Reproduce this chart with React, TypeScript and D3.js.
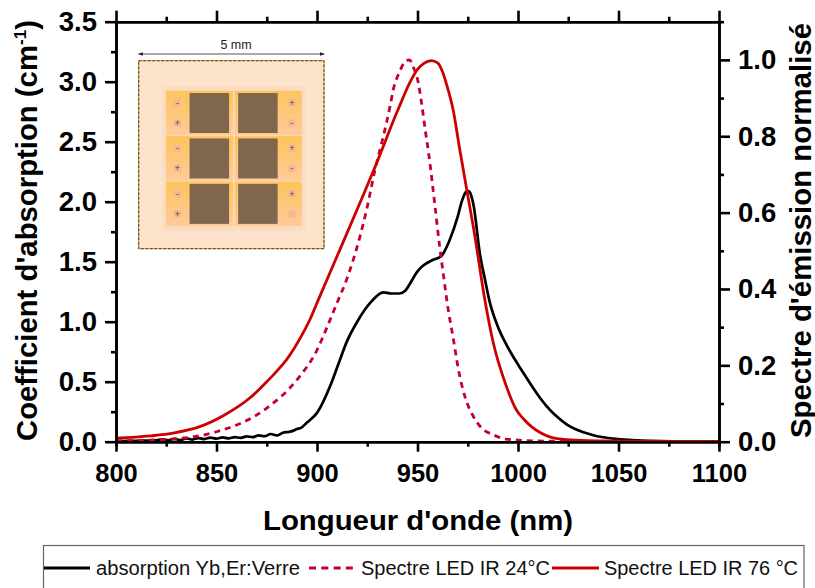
import React, { useEffect, useRef } from 'react';
import * as d3 from 'd3';

const absorptionNm = [800, 810, 820, 823, 826, 829, 832, 835, 838, 841, 844, 847, 850, 853, 856, 859, 862, 865, 868, 871, 874, 877, 880, 883, 886, 888, 890, 892, 895, 900, 906.7, 910.7, 915, 920, 927, 933, 937, 941, 944, 946, 950, 953, 957, 962, 966, 970, 972, 974, 975, 976, 978, 981, 983.6, 985.7, 990, 994.3, 1002.7, 1011, 1014, 1024, 1037, 1051, 1070, 1100];
const absorptionValues = [0.006, 0.008, 0.012, 0.02, 0.012, 0.024, 0.014, 0.028, 0.018, 0.03, 0.022, 0.034, 0.026, 0.036, 0.028, 0.038, 0.032, 0.044, 0.038, 0.052, 0.046, 0.064, 0.052, 0.074, 0.082, 0.09, 0.105, 0.115, 0.16, 0.24, 0.47, 0.65, 0.84, 1.0, 1.167, 1.245, 1.235, 1.235, 1.26, 1.31, 1.42, 1.47, 1.51, 1.55, 1.68, 1.875, 2.0, 2.08, 2.09, 2.08, 1.96, 1.57, 1.35, 1.18, 0.958, 0.806, 0.572, 0.364, 0.3, 0.147, 0.056, 0.02, 0.005, 0];

const led24Nm = [800, 825, 850, 875, 890, 900, 905, 910, 914.7, 921.4, 924.7, 928.9, 933, 936.4, 938, 941, 943.5, 946, 948, 950.4, 952, 953.8, 955.5, 958.7, 961, 963, 964.9, 967.9, 970.4, 973.6, 977.8, 981.9, 987.7, 994, 1010, 1030, 1100];
const led24Values = [0.002, 0.006, 0.026, 0.088, 0.162, 0.24, 0.3, 0.364, 0.424, 0.538, 0.608, 0.713, 0.8, 0.88, 0.923, 0.968, 0.993, 1.0, 0.98, 0.94, 0.888, 0.818, 0.757, 0.617, 0.512, 0.433, 0.359, 0.267, 0.188, 0.118, 0.066, 0.036, 0.018, 0.007, 0.002, 0.001, 0];

const led76Nm = [800, 817, 829, 842, 854, 866.7, 875, 886.6, 891.5, 896.5, 900.7, 905, 911.4, 921.4, 929.7, 939.7, 947, 950, 953, 957, 960, 962.5, 964.5, 967.7, 971, 974.5, 978, 983.5, 987.7, 993.6, 999, 1003, 1007, 1011, 1019.5, 1040, 1100];
const led76Values = [0.009, 0.015, 0.023, 0.04, 0.07, 0.115, 0.157, 0.2275, 0.27, 0.32, 0.372, 0.425, 0.503, 0.626, 0.73, 0.862, 0.949, 0.975, 0.99, 0.998, 0.992, 0.968, 0.935, 0.87, 0.766, 0.66, 0.556, 0.372, 0.259, 0.154, 0.085, 0.058, 0.038, 0.024, 0.008, 0.002, 0];

const xMajorTicks = [800, 850, 900, 950, 1000, 1050, 1100];
const xMinorTicks = [825, 875, 925, 975, 1025, 1075];
const leftMajorTicks = [0, 0.5, 1, 1.5, 2, 2.5, 3, 3.5];
const leftMinorTicks = [0.25, 0.75, 1.25, 1.75, 2.25, 2.75, 3.25];
const rightMajorTicks = [0, 0.2, 0.4, 0.6, 0.8, 1];
const rightMinorTicks = [0.1, 0.3, 0.5, 0.7, 0.9, 1.1];

const legendLabels = ['absorption Yb,Er:Verre', 'Spectre LED IR 24°C', 'Spectre LED IR 76 °C'];

// inset device schematic, one row per pixel triplet
const insetRows = ['haut', 'milieu', 'bas'];
const insetColumns = ['gauche', 'droite'];
const leftPadSigns = [['-', '+'], ['-', '+'], ['-', '+']];
const rightPadSigns = [['+', '-'], ['+', '-'], ['+', '']];

const FONT = '"Liberation Sans", Arial, sans-serif';
const BLACK = '#000000';
const RED = '#cc0000';
const CRIMSON = '#c4002f';

const App: React.FC = () => {
  const svgRef = useRef<SVGSVGElement>(null);

  useEffect(() => {
    if (!svgRef.current) return;

    const left = 116;
    const right = 719;
    const top = 21.7;
    const bottom = 441.7;

    const svg = d3.select(svgRef.current);
    svg.selectAll('*').remove();

    const x = d3.scaleLinear().domain([800, 1100]).range([left, right]);
    const yLeft = d3.scaleLinear().domain([0, 3.5]).range([bottom, top]);
    const yRight = d3.scaleLinear().domain([0, 1.1]).range([bottom, top]);

    // Inset first, the curves run over it
    const inset = svg.append('g');
    const ix = d3.scaleLinear().domain([0, 100]).range([138.7, 324]);
    const iy = d3.scaleLinear().domain([0, 100]).range([60.7, 248.7]);

    inset.append('rect')
      .attr('x', ix(0)).attr('y', iy(0))
      .attr('width', ix(100) - ix(0)).attr('height', iy(100) - iy(0))
      .attr('fill', '#fde3cb')
      .attr('stroke', '#d8b040')
      .attr('stroke-width', 1);
    inset.append('rect')
      .attr('x', ix(0)).attr('y', iy(0))
      .attr('width', ix(100) - ix(0)).attr('height', iy(100) - iy(0))
      .attr('fill', 'none')
      .attr('stroke', '#4a3c18')
      .attr('stroke-width', 1)
      .attr('stroke-dasharray', '3 1.5');

    inset.append('rect')
      .attr('x', ix(12.8)).attr('y', iy(13.8))
      .attr('width', ix(89.8) - ix(12.8)).attr('height', iy(90.5) - iy(13.8))
      .attr('fill', '#fbdcc0');

    const defs = svg.append('defs');
    const cellGradient = defs.append('linearGradient')
      .attr('id', 'cell-gradient')
      .attr('x1', '0%').attr('y1', '0%').attr('x2', '0%').attr('y2', '100%');
    cellGradient.append('stop').attr('offset', '0%').attr('stop-color', '#fdc45a');
    cellGradient.append('stop').attr('offset', '100%').attr('stop-color', '#fecb9a');

    const colBand = d3.scaleBand().domain(insetColumns).range([ix(14.7), ix(88)]).paddingInner(0.023);
    const rowBand = d3.scaleBand().domain(insetRows).range([iy(16), iy(88)]).paddingInner(0.02);
    const squareSize = 39.5;

    insetColumns.forEach((col, c) => {
      insetRows.forEach((row, r) => {
        const cx = colBand(col) as number;
        const cy = rowBand(row) as number;
        const cw = colBand.bandwidth();
        const ch = rowBand.bandwidth();
        inset.append('rect')
          .attr('x', cx).attr('y', cy).attr('width', cw).attr('height', ch)
          .attr('fill', 'url(#cell-gradient)');
        inset.append('rect')
          .attr('x', c === 0 ? cx + cw - squareSize - 4 : cx + 3.5)
          .attr('y', cy + (ch - 40) / 2)
          .attr('width', squareSize).attr('height', 40)
          .attr('fill', '#7f664d');
        const signs = c === 0 ? leftPadSigns[r] : rightPadSigns[r];
        signs.forEach((sign, s) => {
          const px = c === 0 ? cx + 11.5 : cx + cw - 10;
          const py = cy + ch * (s === 0 ? 0.27 : 0.72);
          inset.append('rect')
            .attr('x', px - 3.5).attr('y', py - 3.5).attr('width', 7).attr('height', 7)
            .attr('fill', '#f6b696');
          inset.append('text')
            .attr('x', px).attr('y', py + 3)
            .attr('text-anchor', 'middle')
            .attr('font-family', FONT)
            .attr('font-size', 9)
            .attr('fill', '#5a4038')
            .text(sign);
        });
      });
    });

    // 5 mm scale arrow
    const marker = defs.append('marker')
      .attr('id', 'arrow-head')
      .attr('viewBox', '0 0 6 6')
      .attr('refX', 5).attr('refY', 3)
      .attr('markerWidth', 5).attr('markerHeight', 5)
      .attr('orient', 'auto-start-reverse');
    marker.append('path').attr('d', 'M0,0.8L6,3L0,5.2Z').attr('fill', '#222');
    inset.append('line')
      .attr('x1', ix(0)).attr('x2', ix(100))
      .attr('y1', 54).attr('y2', 54)
      .attr('stroke', '#555')
      .attr('stroke-width', 1)
      .attr('marker-start', 'url(#arrow-head)')
      .attr('marker-end', 'url(#arrow-head)');
    inset.append('text')
      .attr('x', 236).attr('y', 48.5)
      .attr('text-anchor', 'middle')
      .attr('font-family', FONT)
      .attr('font-size', 12.5)
      .attr('fill', '#222')
      .text('5 mm');

    // Curves
    const lineLeft = d3.line<number>()
      .curve(d3.curveMonotoneX)
      .x((_, i) => x(absorptionNm[i]))
      .y(d => yLeft(d));
    const line24 = d3.line<number>()
      .curve(d3.curveMonotoneX)
      .x((_, i) => x(led24Nm[i]))
      .y(d => yRight(d));
    const line76 = d3.line<number>()
      .curve(d3.curveMonotoneX)
      .x((_, i) => x(led76Nm[i]))
      .y(d => yRight(d));

    svg.append('path').datum(absorptionValues)
      .attr('fill', 'none').attr('stroke', BLACK).attr('stroke-width', 2.7)
      .attr('d', lineLeft);
    svg.append('path').datum(led24Values)
      .attr('fill', 'none').attr('stroke', CRIMSON).attr('stroke-width', 2.8)
      .attr('stroke-dasharray', '6 5')
      .attr('d', line24);
    svg.append('path').datum(led76Values)
      .attr('fill', 'none').attr('stroke', RED).attr('stroke-width', 2.8)
      .attr('d', line76);

    // Axes
    const styleAxis = (g: d3.Selection<SVGGElement, unknown, null, undefined>, size: number) => {
      g.selectAll('.domain').attr('stroke', BLACK).attr('stroke-width', 2.6);
      g.selectAll('.tick line').attr('stroke', BLACK).attr('stroke-width', 2.6);
      g.selectAll('.tick text')
        .attr('font-family', FONT)
        .attr('font-weight', 'bold')
        .attr('font-size', size)
        .attr('fill', BLACK);
    };
    const addAxis = (axis: d3.Axis<d3.NumberValue>, tx: number, ty: number, size: number) => {
      const g = svg.append('g').attr('transform', `translate(${tx},${ty})`).call(axis as any);
      styleAxis(g as any, size);
      return g;
    };
    const fmt = d3.format('.1f');

    addAxis(d3.axisBottom(x).tickValues(xMinorTicks).tickSize(5).tickFormat(() => ''), 0, bottom, 25);
    addAxis(d3.axisBottom(x).tickValues(xMajorTicks).tickSize(10).tickSizeOuter(0).tickPadding(12).tickFormat(d3.format('d')), 0, bottom, 25.5);
    addAxis(d3.axisBottom(x).tickValues(xMinorTicks).tickSize(-5).tickSizeOuter(0).tickFormat(() => ''), 0, top, 25);
    addAxis(d3.axisBottom(x).tickValues(xMajorTicks).tickSize(-11).tickSizeOuter(0).tickFormat(() => ''), 0, top, 25);

    addAxis(d3.axisLeft(yLeft).tickValues(leftMinorTicks).tickSize(5).tickSizeOuter(0).tickFormat(() => ''), left, 0, 25);
    addAxis(d3.axisLeft(yLeft).tickValues(leftMajorTicks).tickSize(11).tickSizeOuter(0).tickPadding(8).tickFormat(d => fmt(d)), left, 0, 27.5);

    addAxis(d3.axisRight(yRight).tickValues(rightMinorTicks).tickSize(5).tickSizeOuter(0).tickFormat(() => ''), right, 0, 25);
    addAxis(d3.axisRight(yRight).tickValues(rightMajorTicks).tickSize(11).tickSizeOuter(0).tickPadding(8).tickFormat(d => fmt(d)), right, 0, 27.5);

    // Axis titles
    svg.append('text')
      .attr('x', 418).attr('y', 530)
      .attr('text-anchor', 'middle')
      .attr('font-family', FONT).attr('font-weight', 'bold').attr('font-size', 28.5)
      .attr('textLength', 310).attr('lengthAdjust', 'spacingAndGlyphs')
      .text("Longueur d'onde (nm)");

    const leftTitle = svg.append('text')
      .attr('transform', 'translate(37,441) rotate(-90)')
      .attr('font-family', FONT).attr('font-weight', 'bold').attr('font-size', 29)
      .attr('textLength', 421).attr('lengthAdjust', 'spacingAndGlyphs');
    leftTitle.append('tspan').text("Coefficient d'absorption (cm");
    leftTitle.append('tspan').attr('font-size', 17).attr('dy', -11).text('-1');
    leftTitle.append('tspan').attr('dy', 11).text(')');

    svg.append('text')
      .attr('transform', 'translate(810.5,438) rotate(-90)')
      .attr('font-family', FONT).attr('font-weight', 'bold').attr('font-size', 29)
      .attr('textLength', 415).attr('lengthAdjust', 'spacingAndGlyphs')
      .text("Spectre d'émission normalisé");

    // Legend, bottom edge runs off the page like the original
    const legend = svg.append('g');
    legend.append('rect')
      .attr('x', 43.5).attr('y', 545.5)
      .attr('width', 760.5).attr('height', 60)
      .attr('fill', 'none').attr('stroke', '#666').attr('stroke-width', 1.2);

    const legendKeyX = d3.scaleOrdinal<string, [number, number]>()
      .domain(legendLabels).range([[44, 90], [309, 353], [552, 599]]);
    const legendTextX = d3.scaleOrdinal<string, [number, number]>()
      .domain(legendLabels).range([[96, 204], [361, 189], [604, 194]]);
    const legendStyle = [
      { stroke: BLACK, dash: null },
      { stroke: CRIMSON, dash: '7 5.3' },
      { stroke: RED, dash: null },
    ];
    legendLabels.forEach((label, i) => {
      const [x1, x2] = legendKeyX(label);
      const [tx, tw] = legendTextX(label);
      legend.append('line')
        .attr('x1', x1).attr('x2', x2).attr('y1', 568).attr('y2', 568)
        .attr('stroke', legendStyle[i].stroke)
        .attr('stroke-width', 3)
        .attr('stroke-dasharray', legendStyle[i].dash);
      legend.append('text')
        .attr('x', tx).attr('y', 575)
        .attr('font-family', FONT).attr('font-size', 20)
        .attr('textLength', tw).attr('lengthAdjust', 'spacingAndGlyphs')
        .attr('fill', '#111')
        .text(label);
    });
  }, []);

  return (
    <svg
      ref={svgRef}
      width={815}
      height={588}
      style={{ position: 'absolute', left: 0, top: 0, display: 'block', background: '#fff' }}
    />
  );
};

export default App;
